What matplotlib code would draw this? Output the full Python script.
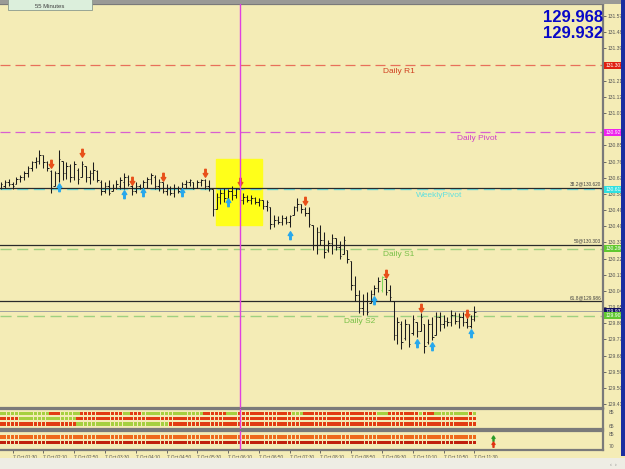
import numpy as np
import matplotlib.pyplot as plt
from matplotlib.path import Path
from matplotlib.patches import Rectangle

plt.rcParams['font.family'] = ['Liberation Sans', 'DejaVu Sans']

# 5 minute bars, 7 Oct 01:15 .. 11:30
opens = [130.62, 130.63, 130.65, 130.64, 130.64, 130.67, 130.68, 130.70, 130.73, 130.76,
         130.77, 130.80, 130.76, 130.71, 130.63, 130.70, 130.77, 130.70, 130.74, 130.68,
         130.72, 130.68, 130.74, 130.68, 130.70, 130.71, 130.65, 130.60, 130.63, 130.60,
         130.62, 130.63, 130.65, 130.68, 130.63, 130.60, 130.63, 130.62, 130.65, 130.67,
         130.68, 130.63, 130.65, 130.60, 130.62, 130.59, 130.62, 130.61, 130.64, 130.65,
         130.65, 130.62, 130.65, 130.66, 130.63, 130.61, 130.50, 130.57, 130.59, 130.56,
         130.60, 130.58, 130.61, 130.55, 130.57, 130.55, 130.56, 130.54, 130.55, 130.52,
         130.51, 130.42, 130.44, 130.43, 130.45, 130.43, 130.47, 130.51, 130.53, 130.50,
         130.48, 130.41, 130.30, 130.37, 130.33, 130.27, 130.31, 130.34, 130.29, 130.25,
         130.27, 130.21, 130.08, 130.02, 129.95, 129.99, 129.98, 130.03, 130.06, 130.05,
         130.11, 130.05, 129.99, 129.80, 129.86, 129.78, 129.86, 129.81, 129.87, 129.82,
         129.86, 129.76, 129.86, 129.80, 129.90, 129.86, 129.88, 129.87, 129.91, 129.88,
         129.90, 129.87, 129.85, 129.89]
highs = [130.65, 130.66, 130.67, 130.65, 130.68, 130.69, 130.71, 130.74, 130.77, 130.79,
         130.83, 130.80, 130.77, 130.72, 130.71, 130.83, 130.77, 130.76, 130.75, 130.77,
         130.73, 130.77, 130.74, 130.72, 130.76, 130.72, 130.66, 130.65, 130.66, 130.64,
         130.66, 130.68, 130.70, 130.69, 130.64, 130.65, 130.64, 130.66, 130.68, 130.70,
         130.69, 130.67, 130.65, 130.64, 130.63, 130.64, 130.63, 130.65, 130.66, 130.67,
         130.65, 130.66, 130.67, 130.67, 130.66, 130.61, 130.59, 130.61, 130.62, 130.61,
         130.63, 130.62, 130.63, 130.59, 130.58, 130.58, 130.57, 130.56, 130.55, 130.55,
         130.51, 130.47, 130.46, 130.47, 130.46, 130.47, 130.52, 130.56, 130.53, 130.51,
         130.51, 130.41, 130.40, 130.41, 130.37, 130.33, 130.36, 130.34, 130.32, 130.35,
         130.27, 130.21, 130.13, 130.05, 130.03, 130.04, 130.05, 130.08, 130.12, 130.13,
         130.11, 130.08, 129.99, 129.90, 129.88, 129.89, 129.86, 129.91, 129.87, 129.92,
         129.86, 129.89, 129.90, 129.93, 129.93, 129.91, 129.90, 129.94, 129.93, 129.92,
         129.93, 129.90, 129.91, 129.96]
lows = [130.61, 130.62, 130.63, 130.61, 130.64, 130.65, 130.66, 130.68, 130.71, 130.73,
        130.75, 130.73, 130.71, 130.59, 130.63, 130.65, 130.66, 130.67, 130.65, 130.66,
        130.64, 130.68, 130.65, 130.64, 130.66, 130.65, 130.58, 130.59, 130.58, 130.60,
        130.61, 130.61, 130.61, 130.63, 130.58, 130.59, 130.61, 130.62, 130.62, 130.64,
        130.61, 130.60, 130.59, 130.58, 130.58, 130.57, 130.59, 130.61, 130.62, 130.63,
        130.61, 130.62, 130.63, 130.61, 130.60, 130.46, 130.50, 130.53, 130.54, 130.55,
        130.55, 130.56, 130.52, 130.53, 130.54, 130.53, 130.53, 130.52, 130.50, 130.49,
        130.39, 130.40, 130.42, 130.41, 130.42, 130.40, 130.47, 130.49, 130.48, 130.46,
        130.40, 130.27, 130.25, 130.30, 130.23, 130.26, 130.25, 130.27, 130.22, 130.25,
        130.20, 130.05, 129.99, 129.92, 129.91, 129.91, 129.98, 130.02, 130.04, 130.04,
        130.02, 129.99, 129.77, 129.75, 129.72, 129.77, 129.73, 129.80, 129.79, 129.82,
        129.70, 129.75, 129.77, 129.80, 129.82, 129.84, 129.85, 129.85, 129.86, 129.84,
        129.85, 129.84, 129.84, 129.88]
closes = [130.64, 130.65, 130.64, 130.63, 130.67, 130.68, 130.70, 130.73, 130.76, 130.77,
          130.80, 130.76, 130.73, 130.62, 130.70, 130.78, 130.70, 130.74, 130.68, 130.75,
          130.67, 130.75, 130.68, 130.70, 130.72, 130.66, 130.60, 130.63, 130.59, 130.62,
          130.64, 130.66, 130.68, 130.64, 130.60, 130.63, 130.62, 130.65, 130.67, 130.69,
          130.63, 130.65, 130.60, 130.62, 130.59, 130.62, 130.60, 130.64, 130.65, 130.66,
          130.62, 130.65, 130.66, 130.63, 130.61, 130.50, 130.57, 130.59, 130.56, 130.60,
          130.58, 130.61, 130.55, 130.57, 130.55, 130.56, 130.54, 130.55, 130.52, 130.54,
          130.42, 130.44, 130.43, 130.45, 130.43, 130.46, 130.51, 130.53, 130.50, 130.48,
          130.42, 130.30, 130.37, 130.33, 130.26, 130.31, 130.34, 130.29, 130.24, 130.33,
          130.22, 130.08, 130.02, 129.95, 129.99, 129.93, 130.03, 130.06, 130.10, 130.12,
          130.04, 130.01, 129.80, 129.87, 129.76, 129.86, 129.75, 129.89, 129.82, 129.90,
          129.74, 129.86, 129.79, 129.90, 129.86, 129.88, 129.87, 129.91, 129.88, 129.90,
          129.87, 129.85, 129.89, 129.93]
green_bars = [99]

# signal arrows: (bar, price)
sell_arrows = [(13, 130.750), (21, 130.810), (34, 130.654), (42, 130.677), (53, 130.699),
               (62, 130.649), (79, 130.543), (100, 130.141), (109, 129.951), (121, 129.918)]
buy_arrows = [(15, 130.621), (32, 130.587), (37, 130.598), (47, 130.593), (59, 130.537),
              (75, 130.358), (97, 129.996), (108, 129.757), (112, 129.740), (122, 129.810)]

# levels
daily_r1 = 131.301
daily_pivot = 130.927
weekly_pivot = 130.611
daily_s1 = 130.280
daily_s2 = 129.906
fib_levels = [('38.2', 130.620), ('50', 130.303), ('61.8', 129.986)]
bid, ask = 129.932, 129.968

price_ticks = [131.575, 131.485, 131.395, 131.305, 131.215, 131.125, 131.035, 130.945,
               130.855, 130.765, 130.675, 130.585, 130.495, 130.405, 130.315, 130.225,
               130.135, 130.045, 129.955, 129.865, 129.775, 129.685, 129.595, 129.505,
               129.415]
hidden_ticks = [131.305, 130.945]  # covered by level boxes
time_ticks = [-5, 3, 11, 19, 27, 35, 43, 51, 59, 67, 75, 83, 91, 99, 107, 115, 123]
time_labels = ['7 Oct 00:50', '7 Oct 01:30', '7 Oct 02:10', '7 Oct 02:50', '7 Oct 03:30',
               '7 Oct 04:10', '7 Oct 04:50', '7 Oct 05:30', '7 Oct 06:10', '7 Oct 06:50',
               '7 Oct 07:30', '7 Oct 08:10', '7 Oct 08:50', '7 Oct 09:30', '7 Oct 10:10',
               '7 Oct 10:50', '7 Oct 11:30']

# strength rows (runs of colour per bar)
row1 = [('g', 13), ('r', 3), ('g', 5), ('r', 11), ('g', 2), ('r', 3), ('g', 16), ('r', 6),
        ('g', 3), ('r', 14), ('g', 3), ('r', 19), ('g', 3), ('r', 8), ('g', 1), ('r', 3),
        ('g', 9), ('r', 1), ('g', 1)]
row2 = [('r', 5), ('g', 15), ('r', 104)]
row3 = [('r', 20), ('g', 24), ('r', 80)]
row4 = [('o', 124)]
row5 = [('d', 124)]

BG = '#f4ecb6'
W, H = 625, 469
XLIM = (-0.26, 156.4)


def box(x0, y0, x1, y1):
    return [x0 / W, 1 - y1 / H, (x1 - x0) / W, (y1 - y0) / H]


def expand(runs):
    out = []
    for c, k in runs:
        out += [c] * k
    return out


up_path = Path([(-0.18, -1), (0.18, -1), (0.18, 0), (0.55, 0), (0, 0.9), (-0.55, 0),
                (-0.18, 0), (-0.18, -1)], closed=True)
down_path = Path([(x, -y) for x, y in up_path.vertices], closed=True)

fig = plt.figure(figsize=(6.25, 4.69), dpi=100, facecolor=BG)
ax = fig.add_axes(box(0, 4, 603, 408))
ax1 = fig.add_axes(box(0, 409, 603, 429))
ax2 = fig.add_axes(box(0, 431, 603, 450))

n = len(closes)
x = np.arange(n)
cols = ['#7fd85a' if i in green_bars else '#1c1c1c' for i in range(n)]

for a in (ax, ax1, ax2):
    a.set_facecolor(BG)
    for s in ('top', 'bottom', 'right'):
        a.spines[s].set_color('#7a7a7a')
        a.spines[s].set_linewidth(1.6)
    a.spines['left'].set_visible(False)
    a.axvline(62, color='#e040e0', lw=1.0, zorder=5)

# main price panel
ax.add_patch(Rectangle((55.8, 130.414), 12, 0.363, color='#ffff1a', zorder=1))

ax.axhline(daily_r1, color='#e8705a', lw=0.9, ls=(0, (8, 4)))
ax.axhline(daily_pivot, color='#d860d0', lw=0.9, ls=(0, (8, 4)))
ax.axhline(weekly_pivot, color='#70e0e0', lw=1.0, ls=(0, (8, 4)))
ax.axhline(daily_s1, color='#9fd080', lw=1.0, ls=(0, (8, 4)))
ax.axhline(daily_s2, color='#9fd080', lw=1.0, ls=(0, (8, 4)))
ax.axhline(bid, color='#a0a0a0', lw=0.7)
for name, lvl in fib_levels:
    ax.axhline(lvl, color='#2a2a2a', lw=0.9)
    ax.text(0.997, lvl + 0.006, f'{name}@{lvl:.3f}', transform=ax.get_yaxis_transform(),
            ha='right', va='bottom', fontsize=3.4, color='#404040')

ax.text(99.2, daily_r1 - 0.015, 'Daily R1', color='#d04020', fontsize=6, va='top')
ax.text(118.4, daily_pivot - 0.015, 'Daily Pivot', color='#d040c8', fontsize=6, va='top')
ax.text(107.8, weekly_pivot - 0.015, 'WeeklyPivot', color='#60e0e0', fontsize=6, va='top')
ax.text(99.2, daily_s1 - 0.012, 'Daily S1', color='#78c048', fontsize=6, va='top')
ax.text(89.0, daily_s2 - 0.012, 'Daily S2', color='#78c048', fontsize=6, va='top')

ax.vlines(x, lows, highs, colors=cols, lw=0.75, zorder=3)
ax.hlines(opens, x - 0.38, x, colors=cols, lw=0.7, zorder=3)
ax.hlines(closes, x, x + 0.38, colors=cols, lw=0.7, zorder=3)

sx, sy = zip(*sell_arrows)
ax.plot(sx, sy, ls='none', marker=down_path, ms=6, color='#e8501a', zorder=4)
bx, by = zip(*buy_arrows)
ax.plot(bx, by, ls='none', marker=up_path, ms=6, color='#28a8ec', zorder=4)

ax.yaxis.tick_right()
ax.set_yticks(price_ticks)
ax.set_yticklabels(['' if t in hidden_ticks else f'{t:.3f}' for t in price_ticks])
ax.tick_params(axis='y', labelsize=3.6, length=2, width=0.6, pad=1, colors='#555555')
ax.set_xticks([])
ax.set_ylim(129.393, 131.642)

tr = ax.get_yaxis_transform()
for lvl, fc, txt in [(daily_r1, '#e02010', 'white'), (daily_pivot, '#ee22ee', 'white'),
                     (weekly_pivot, '#30e0e0', 'white'), (daily_s1, '#60c830', 'white'),
                     (bid, '#101060', 'white'), (daily_s2, '#60c830', 'white')]:
    ax.text(1.004, lvl, f'{lvl:.3f}', transform=tr, fontsize=3.6, color=txt, va='center',
            ha='left', clip_on=False,
            bbox=dict(boxstyle='square,pad=0.2', fc=fc, ec='none'))

# strength panels
palette = {'g': '#a6d040', 'r': '#e23c12', 'o': '#ee6a1c', 'd': '#c0200c'}
for a, rows, ys, lim in [(ax1, [row1, row2, row3], [15.5, 10.5, 5.0], 20),
                         (ax2, [row4, row5], [13.0, 7.5], 19)]:
    a.set_ylim(0, lim)
    a.set_yticks([])
    for r, yy in zip(rows, ys):
        a.scatter(x, [yy] * n, marker='s', s=5.5, c=[palette[c] for c in expand(r)],
                  linewidths=0, zorder=3)

ax1.set_xticks([])
ax1.text(1.01, 16.5, '85', transform=ax1.get_yaxis_transform(), fontsize=3.6, color='#555555',
         va='center', clip_on=False)
ax1.text(1.01, 3.0, '65', transform=ax1.get_yaxis_transform(), fontsize=3.6, color='#555555',
         va='center', clip_on=False)
ax2.text(1.01, 15.5, '85', transform=ax2.get_yaxis_transform(), fontsize=3.6, color='#555555',
         va='center', clip_on=False)
ax2.text(1.01, 4.0, '70', transform=ax2.get_yaxis_transform(), fontsize=3.6, color='#555555',
         va='center', clip_on=False)
ax2.plot([127.8], [12.5], ls='none', marker=up_path, ms=4, color='#2a9a2a')
ax2.plot([127.8], [6.5], ls='none', marker=up_path, ms=4, color='#e03010')

ax2.set_xticks(time_ticks)
ax2.set_xticklabels(time_labels, ha='left')
ax2.tick_params(axis='x', labelsize=3.3, length=2.5, width=0.6, pad=0.8, colors='#555555')

for a in (ax, ax1, ax2):
    a.set_xlim(*XLIM)

# frame decorations
fig.add_artist(Rectangle((0, 1 - 4 / H), 1, 4 / H, transform=fig.transFigure,
                         fc='#9a9a96', ec='none'))
fig.add_artist(Rectangle((8 / W, 1 - 10 / H), 84 / W, 12 / H, transform=fig.transFigure,
                         fc='#dcefdc', ec='#8c9a8c', lw=0.6))
fig.text(50 / W, 1 - 6 / H, '55 Minutes', fontsize=4.3, color='#404040', ha='center',
         va='center')
fig.add_artist(Rectangle((621 / W, 1 - 456 / H), 4 / W, 456 / H, transform=fig.transFigure,
                         fc='#1a2ea0', ec='none'))
fig.add_artist(Rectangle((0, 0), 1, 11 / H, transform=fig.transFigure, fc='#eeede4',
                         ec='none'))
fig.text(613 / W, 5 / H, '‹  ›', fontsize=4, color='#888888', ha='center', va='center')

fig.text(603 / W, 1 - 17 / H, f'{ask:.3f}', fontsize=12, fontweight='bold', color='#0808c8',
         ha='right', va='center')
fig.text(603 / W, 1 - 33 / H, f'{bid:.3f}', fontsize=12, fontweight='bold', color='#0808c8',
         ha='right', va='center')

fig.savefig('out.png', dpi=100, facecolor=BG)
